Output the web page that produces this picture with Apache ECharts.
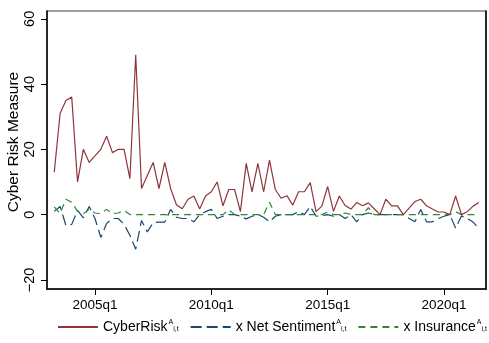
<!DOCTYPE html>
<html>
<head>
<meta charset="utf-8">
<script src="https://cdn.jsdelivr.net/npm/echarts@6/dist/echarts.min.js"></script>
<style>
  html, body { margin: 0; padding: 0; background: #fff; }
  #chart { width: 489px; height: 343px; }
</style>
</head>
<body>
<div id="chart"></div>
<script>
// Quarterly observations, 2003q2 - 2021q3
const quarters = [
  '2003q2','2003q3','2003q4',
  '2004q1','2004q2','2004q3','2004q4',
  '2005q1','2005q2','2005q3','2005q4',
  '2006q1','2006q2','2006q3','2006q4',
  '2007q1','2007q2','2007q3','2007q4',
  '2008q1','2008q2','2008q3','2008q4',
  '2009q1','2009q2','2009q3','2009q4',
  '2010q1','2010q2','2010q3','2010q4',
  '2011q1','2011q2','2011q3','2011q4',
  '2012q1','2012q2','2012q3','2012q4',
  '2013q1','2013q2','2013q3','2013q4',
  '2014q1','2014q2','2014q3','2014q4',
  '2015q1','2015q2','2015q3','2015q4',
  '2016q1','2016q2','2016q3','2016q4',
  '2017q1','2017q2','2017q3','2017q4',
  '2018q1','2018q2','2018q3','2018q4',
  '2019q1','2019q2','2019q3','2019q4',
  '2020q1','2020q2','2020q3','2020q4',
  '2021q1','2021q2','2021q3'
];

const cyberRisk = [
  13, 31, 35,
  36, 10, 20, 16,
  18, 20, 24, 19,
  20, 20, 11, 49,
  8, 12, 16, 8,
  16, 8, 3, 1.8,
  4.7, 5.7, 1.7, 5.7,
  7, 10, 2.7, 7.7,
  7.7, 0.9, 15.7, 7,
  15.7, 7, 16.7, 7.7,
  5, 5.8, 2.9, 7,
  7, 9.8, 0.9, 2.6,
  8.6, 1, 5.7, 2.8,
  1.7, 3.7, 2.7, 3.6,
  1.8, 0, 4.7, 2.7,
  2.7, 0, 2, 4,
  4.7, 2.7, 1.7, 0.8,
  0.8, 0, 5.7, 0,
  0.9, 2.6, 3.7
];

const netSentiment = [
  1, 2.5, -3.3,
  -3, 1.3, -1, 2.5,
  -1.2, -7, -2.7, -1.2,
  -1.2, -3, -6.3, -10.6,
  -1.8, -5.3, -2.5, -2.3,
  -2.3, 1.6, -0.8, -1.2,
  -1.2, -2.2, 0, 0.9,
  1.6, -1.2, -0.5, 0,
  0, -0.5, -1.3, -0.5,
  0, -0.8, -2.2, -0.5,
  0, 0, 0, 0.9,
  0, 2.5, -0.5, -0.3,
  0, -0.5, 0, -1.2,
  0, -2.2, 0, 0.5,
  0, 0, 0, 0,
  0, 0, -1.2, -2.2,
  1.6, -2.2, -2.2, -1.2,
  -0.5, 0, -4.2, -0.4,
  -1.2, -2.3, -4.2
];

const insurance = [
  2.4, 0.3, 4.7,
  3.8, 1.0, 0.3, 1.6,
  0.5, 0.3, 1.6, 0.3,
  0.5, 1.3, 0, 0,
  0, 0, 0, 0,
  0, 0, 0, 0,
  0, 0, 0, 0,
  0, 0, 0, 1.5,
  0, 0, 0, 0,
  0, 0, 3.8, 0,
  0, 0, 0, 0,
  0, 0, 0, 0,
  0.8, 0, 0, 0.5,
  0, 0, 0, 2.1,
  0, 0, 0, 0,
  0, 0, 0, 0,
  0, 0, 0, 0,
  0, 0, 0.9, 0,
  0, 0, 0
];

const xTicks = ['2005q1', '2010q1', '2015q1', '2020q1'];
const yTicks = [-20, 0, 20, 40, 60];

// quarter label <-> running quarter number (1960q1 = 0)
function qnum(label) {
  const y = parseInt(label.slice(0, 4), 10);
  const q = parseInt(label.slice(5), 10);
  return (y - 1960) * 4 + (q - 1);
}
function qlabel(n) {
  const y = 1960 + Math.floor(n / 4);
  const q = (n % 4) + 1;
  return y + 'q' + q;
}
function pairs(values) {
  return quarters.map((q, i) => [qnum(q), values[i]]);
}

const FONT = '"Liberation Sans", Arial, Helvetica, sans-serif';
const rich = {
  n: { fontFamily: FONT, fontSize: 14, color: '#000' },
  sup: { fontFamily: FONT, fontSize: 7, color: '#000', padding: [0, 0, 9, 1] },
  sub: { fontFamily: FONT, fontSize: 7, color: '#000', padding: [5, 0, 0, 0] }
};
const legendText = {
  'CyberRisk': '{n|CyberRisk}{sup|A}{sub|i,t}',
  'x Net Sentiment': '{n|x Net Sentiment}{sup|A}{sub|i,t}',
  'x Insurance': '{n|x Insurance}{sup|A}{sub|i,t}'
};

const chart = echarts.init(document.getElementById('chart'), null, { renderer: 'canvas' });

chart.setOption({
  backgroundColor: '#ffffff',
  animation: false,
  grid: {
    left: 47, right: 3, top: 11, bottom: 54,
    show: true, borderColor: '#808080', borderWidth: 1.5, backgroundColor: '#ffffff'
  },
  graphic: [{
    type: 'text',
    x: 14, y: 142,
    rotation: Math.PI / 2,
    style: {
      text: 'Cyber Risk Measure',
      fill: '#000',
      font: '15.5px ' + FONT,
      align: 'center',
      verticalAlign: 'middle'
    }
  }],
  xAxis: {
    type: 'value',
    min: qnum('2003q1') - 0.25,
    max: qnum('2020q1') + 7.22,
    axisLine: { show: true, onZero: false, lineStyle: { color: '#000', width: 1.5 } },
    axisTick: { show: true, length: 6, lineStyle: { color: '#000', width: 1 },
                customValues: xTicks.map(qnum) },
    axisLabel: { show: true, color: '#000', fontFamily: FONT, fontSize: 13.5, margin: 9,
                 customValues: xTicks.map(qnum),
                 formatter: v => qlabel(Math.round(v)) },
    splitLine: { show: false }
  },
  yAxis: [{
    type: 'value',
    min: -22.8, max: 62.4,
    axisLine: { show: true, onZero: false, lineStyle: { color: '#000', width: 1.5 } },
    axisTick: { show: true, length: 6, lineStyle: { color: '#000', width: 1 },
                customValues: yTicks },
    axisLabel: { show: true, color: '#000', fontFamily: FONT, fontSize: 14.5, rotate: 90, margin: 10,
                 customValues: yTicks,
                 formatter: v => (v < 0 ? '\u2212' + Math.abs(v) : String(v)) },
    splitLine: { show: false }
  }, {
    type: 'value',
    position: 'right',
    min: -22.8, max: 62.4,
    axisLine: { show: true, onZero: false, lineStyle: { color: '#000', width: 1.5 } },
    axisTick: { show: false },
    axisLabel: { show: false },
    splitLine: { show: false }
  }],
  legend: {
    show: true,
    bottom: 9,
    left: 57,
    padding: 0,
    itemWidth: 40,
    itemHeight: 12,
    itemGap: 11,
    itemStyle: { opacity: 0 },
    formatter: name => legendText[name],
    textStyle: { color: '#000', fontFamily: FONT, fontSize: 14, rich: rich },
    data: ['CyberRisk', 'x Net Sentiment', 'x Insurance']
  },
  series: [{
    name: 'CyberRisk',
    type: 'line',
    data: pairs(cyberRisk),
    symbol: 'none',
    lineStyle: { color: '#90353b', width: 1.2 },
    itemStyle: { color: '#90353b' },
    z: 3
  }, {
    name: 'x Net Sentiment',
    type: 'line',
    data: pairs(netSentiment),
    symbol: 'none',
    lineStyle: { color: '#1a476f', width: 1.2, type: [11, 5] },
    itemStyle: { color: '#1a476f' },
    z: 2
  }, {
    name: 'x Insurance',
    type: 'line',
    data: pairs(insurance),
    symbol: 'none',
    lineStyle: { color: '#2c8a2c', width: 1.2, type: [7, 5] },
    itemStyle: { color: '#2c8a2c' },
    z: 2
  }]
});
</script>
</body>
</html>
